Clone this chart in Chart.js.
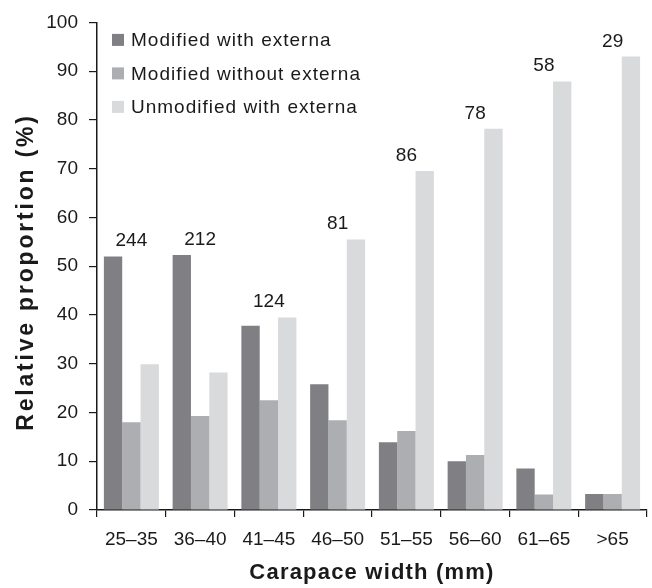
<!DOCTYPE html>
<html>
<head>
<meta charset="utf-8">
<script src="https://cdn.jsdelivr.net/npm/chart.js@4/dist/chart.umd.min.js"></script>
<style>
  html, body { margin: 0; padding: 0; background: #fff; }
  #wrap { width: 652px; height: 588px; }
</style>
</head>
<body>
<div id="wrap"><canvas id="crabChart"></canvas></div>
<script>
const widthClasses = ["25–35", "36–40", "41–45", "46–50", "51–55", "56–60", "61–65", ">65"];
const modifiedWithExterna = [52.0, 52.3, 37.8, 25.8, 13.9, 10.0, 8.5, 3.3];
const modifiedWithoutExterna = [18.0, 19.3, 22.5, 18.4, 16.2, 11.3, 3.2, 3.3];
const unmodifiedWithExterna = [29.9, 28.2, 39.5, 55.5, 69.5, 78.2, 87.9, 93.0];
const sampleSizes = [244, 212, 124, 81, 86, 78, 58, 29];
const xTitle = "Carapace width (mm)";
const yTitle = "Relative proportion (%)";

const FONT = "'Liberation Sans', Arial, Helvetica, sans-serif";
const INK = "#1a1a1a";

// 組上方的樣本數、圖內圖例、軸標題
const overlayPlugin = {
    id: "overlay",
    afterDatasetsDraw(chart) {
        const ctx = chart.ctx;
        const x = chart.scales.x;
        const y = chart.scales.y;
        ctx.save();
        ctx.fillStyle = INK;
        ctx.font = "19px " + FONT;
        ctx.textAlign = "center";
        ctx.textBaseline = "alphabetic";
        sampleSizes.forEach((n, i) => {
            const top = Math.max(...chart.data.datasets.map(ds => ds.data[i]));
            ctx.fillText(String(n), x.getPixelForValue(i), y.getPixelForValue(top) - 10);
        });

        // legend
        const area = chart.chartArea;
        ctx.textAlign = "left";
        ctx.textBaseline = "middle";
        ctx.letterSpacing = "1px";
        chart.data.datasets.forEach((ds, i) => {
            const cy = area.top + 17.5 + i * 33.5;
            ctx.fillStyle = ds.backgroundColor;
            ctx.fillRect(area.left + 15, cy - 6, 12, 12);
            ctx.fillStyle = INK;
            ctx.fillText(ds.label, area.left + 34, cy + 1);
        });
        ctx.restore();
    },
    afterDraw(chart) {
        const ctx = chart.ctx;
        const area = chart.chartArea;
        ctx.save();
        ctx.fillStyle = INK;
        ctx.font = "bold 22px " + FONT;
        ctx.textAlign = "center";
        ctx.textBaseline = "middle";
        ctx.letterSpacing = "1.2px";
        ctx.fillText(xTitle, (area.left + area.right) / 2, 573);
        ctx.translate(27, 272);
        ctx.rotate(-Math.PI / 2);
        ctx.font = "bold 23px " + FONT;
        ctx.letterSpacing = "2.8px";
        ctx.fillText(yTitle, 0, 0);
        ctx.restore();
    }
};

new Chart(document.getElementById("crabChart"), {
    type: "bar",
    data: {
        labels: widthClasses,
        datasets: [
            { label: "Modified with externa", data: modifiedWithExterna, backgroundColor: "#807f84" },
            { label: "Modified without externa", data: modifiedWithoutExterna, backgroundColor: "#adaeb2" },
            { label: "Unmodified with externa", data: unmodifiedWithExterna, backgroundColor: "#d9dadc" }
        ]
    },
    options: {
        responsive: true,
        maintainAspectRatio: false,
        animation: false,
        layout: { padding: { top: 22, right: 5, left: 0, bottom: 0 } },
        datasets: { bar: { categoryPercentage: 0.8, barPercentage: 1.0, borderWidth: 0 } },
        plugins: {
            legend: { display: false },
            tooltip: { enabled: false }
        },
        scales: {
            x: {
                offset: true,
                border: { color: INK, width: 1.5 },
                grid: { offset: true, drawOnChartArea: false, tickLength: 7, color: INK, lineWidth: 1.2 },
                ticks: { color: INK, font: { family: FONT, size: 19 }, padding: 11 },
                afterFit(scale) { scale.height = 78; }
            },
            y: {
                min: 0,
                max: 100,
                border: { color: INK, width: 1.5 },
                grid: { drawOnChartArea: false, tickLength: 8, color: INK, lineWidth: 1.2 },
                ticks: { stepSize: 10, color: INK, font: { family: FONT, size: 19 }, padding: 11 },
                afterFit(scale) { scale.width = 97; }
            }
        }
    },
    plugins: [overlayPlugin]
});
</script>
</body>
</html>
